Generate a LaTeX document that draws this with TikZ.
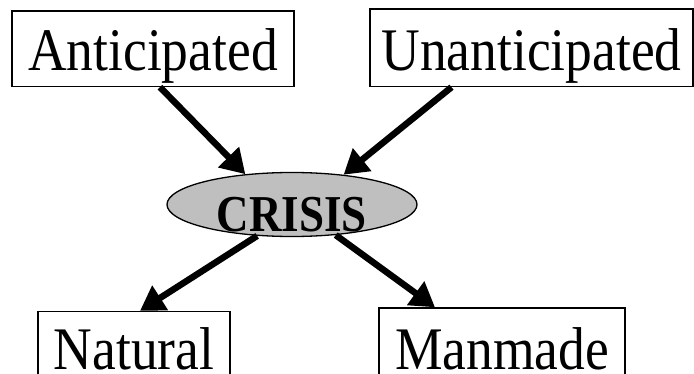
\documentclass[tikz,border=0pt]{standalone}
\usepackage{fontspec}
\setmainfont{Liberation Serif}
\usetikzlibrary{arrows.meta,shapes.geometric}
\newcommand{\stretchtxt}[1]{\scalebox{1}[1.13]{#1}}
\begin{document}
\begin{tikzpicture}[x=1pt,y=-1pt,
  box/.style={draw=black,line width=1.4pt,rectangle,inner xsep=0pt,inner ysep=0pt,
    anchor=base,align=center,font=\fontsize{53.5pt}{60pt}\selectfont},
  crisisshape/.style={ellipse,draw=black,line width=1.3pt,fill=black!25,
    minimum width=250pt,minimum height=64pt,inner sep=0pt,
    font=\fontsize{45pt}{50pt}\selectfont\bfseries},
  arr/.style={line width=6.5pt,-{Triangle[length=24pt,width=28pt]}}]
\path[use as bounding box,fill=white] (0,0) rectangle (694,374);
\clip (0,0) rectangle (694,374);
\node[box,minimum width=282pt,text height=60pt,text depth=15.5pt] (ant) at (153,71) {\stretchtxt{Anticipated}};
\node[box,minimum width=323pt,text height=62pt,text depth=15.5pt] (unant) at (531.5,71) {\stretchtxt{Unanticipated}};
\node[box,minimum width=192pt,text height=58.5pt,text depth=20pt] (nat) at (134,370) {\stretchtxt{Natural}};
\node[box,minimum width=246pt,text height=61pt,text depth=20pt] (man) at (502,369) {\stretchtxt{Manmade}};
\node[crisisshape] (crisis) at (292,204.5) {\smash{\raisebox{-27.2pt}{\scalebox{1}[1.15]{CRISIS}}}};
\draw[arr] ([xshift=7pt]ant.south) -- (crisis.147);
\draw[arr] ([xshift=-80pt]unant.south) -- (crisis.30);
\draw[arr] (crisis.222) -- ([xshift=6pt]nat.north);
\draw[arr] (crisis.325) -- ([xshift=-67pt]man.north);
\end{tikzpicture}
\end{document}
